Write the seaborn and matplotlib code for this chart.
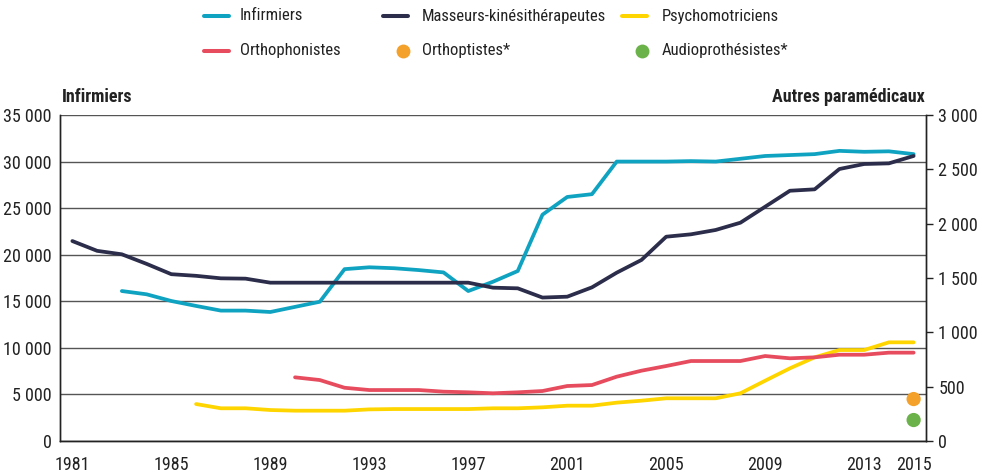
import numpy as np
import pandas as pd
import matplotlib
matplotlib.use("Agg")
import matplotlib.pyplot as plt
import seaborn as sns
from matplotlib.lines import Line2D
from matplotlib.ticker import FuncFormatter, FixedLocator

# ---------------- data ----------------
years_inf = list(range(1983, 2016))
infirmiers = [16100, 15750, 15030, 14500, 14000, 14000, 13850, 14400, 14950, 18450,
              18650, 18550, 18350, 18100, 16100, 17100, 18250, 24300, 26200, 26500,
              30000, 30000, 30000, 30050, 30000, 30300, 30600, 30700, 30800, 31150,
              31050, 31100, 30800]

years_mk = list(range(1981, 2016))
masseurs = [1840, 1750, 1718, 1630, 1535, 1520, 1497, 1494, 1457, 1457,
            1457, 1457, 1457, 1457, 1457, 1457, 1457, 1411, 1405, 1320,
            1328, 1414, 1549, 1666, 1880, 1902, 1942, 2009, 2156, 2303,
            2316, 2503, 2549, 2555, 2623]

years_ortho = list(range(1990, 2016))
orthophonistes = [586, 561, 490, 469, 469, 469, 454, 448, 439, 448, 460, 506, 515,
                  592, 647, 690, 736, 736, 736, 782, 761, 770, 794, 794, 813, 813]

years_psy = list(range(1986, 2016))
psychomotriciens = [340, 301, 301, 285, 279, 279, 279, 291, 294, 294, 294, 294, 301,
                    301, 310, 325, 325, 353, 371, 393, 393, 393, 439, 555, 669, 770,
                    837, 837, 908, 908]

years_dots = [2015, 2015]
dots_names = ["Orthoptistes*", "Audioprothésistes*"]
dots_values = [386, 193]

xtick_labels = [1981, 1985, 1989, 1993, 1997, 2001, 2005, 2009, 2013, 2015]
left_ticks = [0, 5000, 10000, 15000, 20000, 25000, 30000, 35000]
right_ticks = [0, 500, 1000, 1500, 2000, 2500, 3000]

colors = {
    "Infirmiers": "#0fa3c1",
    "Masseurs-kinésithérapeutes": "#2b2d4a",
    "Psychomotriciens": "#ffd500",
    "Orthophonistes": "#e64c5e",
    "Orthoptistes*": "#f4a12b",
    "Audioprothésistes*": "#6cb24a",
}

# ---------------- style ----------------
sns.set_theme(style="white")
plt.rcParams["font.family"] = ["Roboto Condensed", "PT Sans Narrow", "Fira Sans Condensed",
                               "DejaVu Sans"]
plt.rcParams["text.color"] = "#222222"

W, H = 982, 476
fig = plt.figure(figsize=(W / 100, H / 100), dpi=100)
ax = fig.add_axes([60 / W, (H - 441) / H, (926 - 60) / W, (441 - 115) / H])
ax2 = ax.twinx()
ax2.patch.set_visible(False)

lw = 2.7
df_inf = pd.DataFrame({"year": years_inf, "value": infirmiers})
sns.lineplot(data=df_inf, x="year", y="value", ax=ax, color=colors["Infirmiers"],
             linewidth=lw, legend=False, zorder=3)

df_mk = pd.DataFrame({"year": years_mk, "value": masseurs})
df_or = pd.DataFrame({"year": years_ortho, "value": orthophonistes})
df_ps = pd.DataFrame({"year": years_psy, "value": psychomotriciens})
sns.lineplot(data=df_ps, x="year", y="value", ax=ax2, color=colors["Psychomotriciens"],
             linewidth=lw, legend=False)
sns.lineplot(data=df_or, x="year", y="value", ax=ax2, color=colors["Orthophonistes"],
             linewidth=lw, legend=False)
sns.lineplot(data=df_mk, x="year", y="value", ax=ax2, color=colors["Masseurs-kinésithérapeutes"],
             linewidth=lw, legend=False)
df_dots = pd.DataFrame({"year": years_dots, "value": dots_values, "name": dots_names})
sns.scatterplot(data=df_dots, x="year", y="value", hue="name",
                palette={n: colors[n] for n in dots_names}, s=105, ax=ax2,
                legend=False, edgecolor="none", zorder=5, clip_on=False)

# ---------------- axes ----------------
ax.set_xlim(1980.5, 2015.5)
ax.set_ylim(0, 35000)
ax2.set_ylim(0, 3000)

ax.set_xlabel("")
ax.set_ylabel("")
ax2.set_xlabel("")
ax2.set_ylabel("")

fmt = FuncFormatter(lambda v, p: f"{int(v):,}".replace(",", " "))
ax.yaxis.set_major_locator(FixedLocator(left_ticks))
ax.yaxis.set_major_formatter(fmt)
ax2.yaxis.set_major_locator(FixedLocator(right_ticks))
ax2.yaxis.set_major_formatter(fmt)

ax.xaxis.set_major_locator(FixedLocator(xtick_labels))
ax.set_xticklabels([str(y) for y in xtick_labels])
ax.xaxis.set_minor_locator(FixedLocator(np.arange(1980.5, 2016, 1.0)))
fs = 13
ax.tick_params(axis="x", which="major", length=0, pad=11, labelsize=fs, labelcolor="#222222")
ax.tick_params(axis="x", which="minor", length=6, width=1, color="#222222", direction="out")
ax.tick_params(axis="y", which="major", length=0, pad=6, labelsize=fs, labelcolor="#222222")
ax2.tick_params(axis="y", which="major", length=5, width=1, color="#222222",
                direction="out", pad=4, labelsize=fs, labelcolor="#222222")

ax.grid(axis="y", color="#555555", linewidth=1.0)
ax.grid(axis="x", visible=False)
ax2.grid(False)
ax.set_axisbelow(True)

for a in (ax, ax2):
    a.spines["top"].set_visible(False)
    for s in ("left", "right", "bottom"):
        a.spines[s].set_color("#222222")
        a.spines[s].set_linewidth(1.0)

# axis titles
fig.text(62 / W, (H - 97) / H, "Infirmiers", ha="left", va="center",
         fontsize=fs, fontweight="bold", color="#222222")
fig.text(925 / W, (H - 97) / H, "Autres paramédicaux", ha="right", va="center",
         fontsize=fs, fontweight="bold", color="#222222")

# ---------------- legend (manual layout) ----------------
legend_items = [
    # (name, kind, handle_x, text_x, row_y)
    ("Infirmiers", "line", 202, 240, 16),
    ("Orthophonistes", "line", 202, 240, 51),
    ("Masseurs-kinésithérapeutes", "line", 381, 422, 16),
    ("Orthoptistes*", "dot", 381, 422, 51),
    ("Psychomotriciens", "line", 620, 662, 16),
    ("Audioprothésistes*", "dot", 620, 662, 51),
]
for name, kind, hx, tx, ry in legend_items:
    yy = 1 - ry / H
    if kind == "line":
        fig.add_artist(Line2D([(hx + 2) / W, (hx + 27) / W], [yy, yy], transform=fig.transFigure,
                              color=colors[name], linewidth=2.9, solid_capstyle="round"))
    else:
        fig.add_artist(Line2D([(hx + 22) / W], [yy], transform=fig.transFigure,
                              color=colors[name], marker="o", linestyle="none",
                              markersize=10, markeredgewidth=0))
    fig.text(tx / W, yy, name, ha="left", va="center", fontsize=12, color="#222222")

fig.savefig("out.png", dpi=100)
